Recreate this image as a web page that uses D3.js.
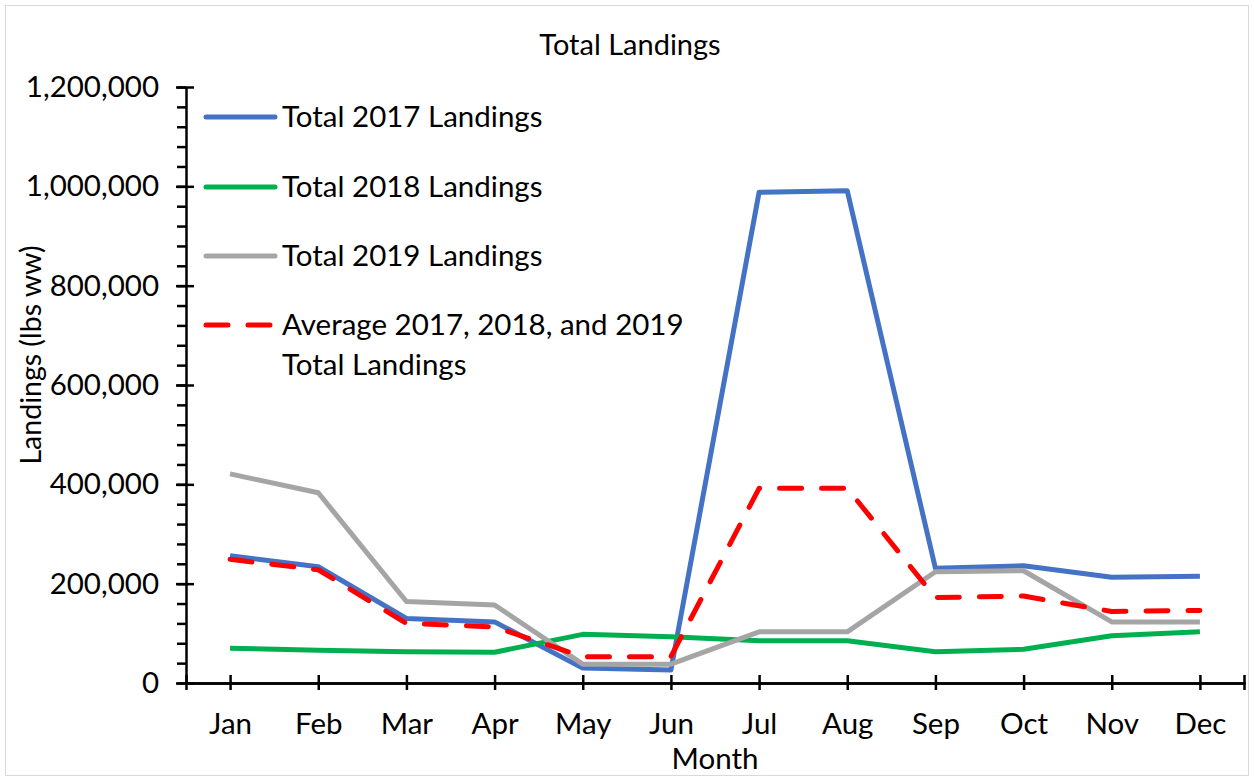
<!DOCTYPE html>
<html>
<head>
<meta charset="utf-8">
<script src="https://cdn.jsdelivr.net/npm/d3@7"></script>
<style>
  body { margin: 0; background: #fff; }
  text { font-family: Lato, "Open Sans", sans-serif; fill: #000; }
</style>
</head>
<body>
<div id="chart"></div>
<script>
// data
var months = ["Jan", "Feb", "Mar", "Apr", "May", "Jun", "Jul", "Aug", "Sep", "Oct", "Nov", "Dec"];
var total2017 = [256000, 234000, 130000, 123000, 30000, 26000, 988000, 991000, 231000, 236000, 213000, 215000];
var total2018 = [70000, 66000, 63000, 62000, 98000, 93000, 85000, 85000, 63000, 68000, 95000, 103000];
var total2019 = [421000, 383000, 164000, 157000, 38000, 38000, 103000, 103000, 224000, 226000, 123000, 123000];
var average = [249000, 228000, 120000, 113000, 53000, 53000, 392000, 392000, 172000, 175000, 144000, 146000];
var yTicks = [0, 200000, 400000, 600000, 800000, 1000000, 1200000];

var series = [
  { name: "Total 2017 Landings", values: total2017, color: "#4472C4", dash: null },
  { name: "Total 2018 Landings", values: total2018, color: "#00B050", dash: null },
  { name: "Total 2019 Landings", values: total2019, color: "#A5A5A5", dash: null },
  { name: ["Average 2017, 2018, and 2019", "Total Landings"], values: average, color: "#FF0000", dash: "22,20" }
];

var fontSize = "29.5px";
var svgWidth = 1254, svgHeight = 778;
var svg = d3.select("#chart").append("svg")
    .attr("width", svgWidth)
    .attr("height", svgHeight);

// chart border
svg.append("rect")
    .attr("x", 5.5).attr("y", 5.5)
    .attr("width", 1243).attr("height", 770)
    .attr("fill", "none")
    .attr("stroke", "#d9d9d9");

var xScale = d3.scalePoint()
    .domain(months)
    .range([186, 1244])
    .padding(0.5);

var yScale = d3.scaleLinear()
    .domain([0, 1200000])
    .range([683, 87]);

// y minor ticks (left side)
svg.append("g")
    .attr("transform", "translate(186,0)")
    .call(d3.axisLeft(yScale).tickValues(d3.range(0, 1200001, 40000)).tickSize(9).tickFormat(""))
    .call(g => g.select(".domain").remove());
// y major ticks crossing + labels
svg.append("g")
    .attr("transform", "translate(186,0)")
    .call(d3.axisLeft(yScale).tickValues(yTicks).tickSize(-8).tickFormat(""))
    .call(g => g.select(".domain").remove());
var yAxis = svg.append("g")
    .attr("transform", "translate(186,0)")
    .call(d3.axisLeft(yScale).tickValues(yTicks).tickSize(10).tickSizeOuter(0).tickPadding(17).tickFormat(d3.format(",")));
yAxis.selectAll("text").style("font-size", fontSize);

// x axis, ticks cross the line
var xAxis = svg.append("g")
    .attr("transform", "translate(0,683)")
    .call(d3.axisBottom(xScale).tickSize(7).tickSizeOuter(7).tickPadding(23));
xAxis.selectAll("text").style("font-size", fontSize);
svg.append("g")
    .attr("transform", "translate(0,683)")
    .call(d3.axisBottom(xScale).tickSize(-8).tickSizeOuter(-8).tickFormat(""));

svg.selectAll(".domain, .tick line")
    .attr("stroke", "#000")
    .attr("stroke-width", 2.5);

// lines
var line = d3.line()
    .x((d, i) => xScale(months[i]))
    .y(d => yScale(d));

svg.selectAll("path.series")
    .data(series)
    .enter()
    .append("path")
    .classed("series", true)
    .attr("d", d => line(d.values))
    .attr("fill", "none")
    .attr("stroke", d => d.color)
    .attr("stroke-width", 5)
    .attr("stroke-linejoin", "round")
    .attr("stroke-linecap", d => d.dash ? "round" : "butt")
    .attr("stroke-dasharray", d => d.dash);

// legend
var legendY = [117, 187, 256, 325];
var legend = svg.selectAll("g.legend")
    .data(series)
    .enter()
    .append("g")
    .classed("legend", true)
    .attr("transform", (d, i) => `translate(204, ${legendY[i]})`);

legend.append("line")
    .attr("x1", 2).attr("x2", 71)
    .attr("stroke", d => d.color)
    .attr("stroke-width", 5)
    .attr("stroke-linecap", "round")
    .attr("stroke-dasharray", d => d.dash);

legend.append("text")
    .attr("x", 78)
    .style("font-size", fontSize)
    .each(function(d) {
        var names = Array.isArray(d.name) ? d.name : [d.name];
        var t = d3.select(this);
        names.forEach((n, j) => {
            t.append("tspan").attr("x", 78).attr("dy", j == 0 ? "0.35em" : "1.36em").text(n);
        });
    });

// title
svg.append("text")
    .attr("x", 630).attr("y", 55)
    .attr("text-anchor", "middle")
    .style("font-size", "29px")
    .text("Total Landings");

// axis titles
svg.append("text")
    .attr("transform", "rotate(-90)")
    .attr("x", -355).attr("y", 41)
    .attr("text-anchor", "middle")
    .style("font-size", "28.5px")
    .text("Landings (lbs ww)");

svg.append("text")
    .attr("x", 715).attr("y", 769)
    .attr("text-anchor", "middle")
    .style("font-size", fontSize)
    .text("Month");
</script>
</body>
</html>
